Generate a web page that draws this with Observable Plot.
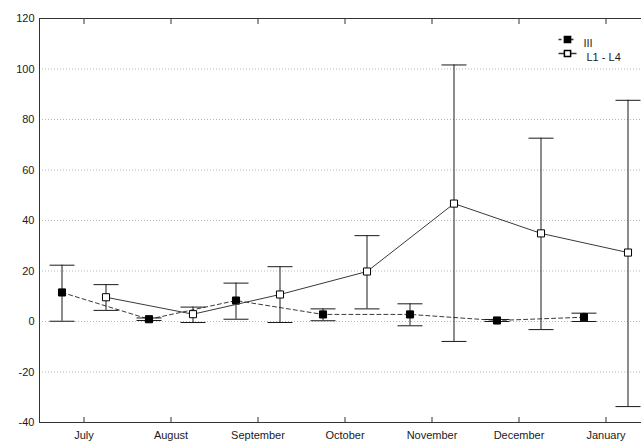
<!DOCTYPE html>
<html>
<head>
<meta charset="utf-8">
<script src="https://cdn.jsdelivr.net/npm/d3@7"></script>
<script src="https://cdn.jsdelivr.net/npm/@observablehq/plot@0.6"></script>
<style>
  html, body { margin: 0; padding: 0; background: #fff; }
  #chart svg { display: block; }
</style>
</head>
<body>
<div id="chart"></div>
<script>
const months = ["July", "August", "September", "October", "November", "December", "January"];
const yTicks = [-40, -20, 0, 20, 40, 60, 80, 100, 120];
const gridTicks = [-20, 0, 20, 40, 60, 80, 100];

const seriesNames = ["III", "L1 - L4"];
const iiiMean = [11.5, 0.9, 8.3, 2.8, 2.8, 0.4, 1.7];
const iiiLow  = [0.1, 0.4, 0.9, 0.3, -1.7, 0.0, 0.0];
const iiiHigh = [22.3, 1.4, 15.2, 5.0, 7.0, 0.8, 3.3];
const lMean = [9.6, 2.9, 10.7, 19.8, 46.7, 34.9, 27.3];
const lLow  = [4.4, -0.4, -0.4, 5.0, -7.9, -3.2, -33.7];
const lHigh = [14.6, 5.7, 21.7, 34.0, 101.6, 72.6, 87.6];

const iii = months.map((m, i) => ({month: m, mean: iiiMean[i], low: iiiLow[i], high: iiiHigh[i]}));
const l14 = months.map((m, i) => ({month: m, mean: lMean[i], low: lLow[i], high: lHigh[i]}));

const hline = (w) => ({draw(ctx) { ctx.moveTo(-w / 2, 0); ctx.lineTo(w / 2, 0); }});
const ink = "#1a1a1a";
const OFF = 22;

function seriesMarks(data, dx, filled, dashed) {
  return [
    Plot.line(data, {x: "month", y: "mean", dx, stroke: "#3a3a3a", strokeWidth: 1, strokeDasharray: dashed ? "4,3" : null}),
    Plot.ruleX(data, {x: "month", y1: "low", y2: "high", dx, stroke: ink, strokeWidth: 1}),
    Plot.dot(data, {x: "month", y: "high", dx, symbol: hline(25), stroke: ink, strokeWidth: 1}),
    Plot.dot(data, {x: "month", y: "low", dx, symbol: hline(25), stroke: ink, strokeWidth: 1}),
    Plot.dot(data, {x: "month", y: "mean", dx, symbol: "square", r: 4, fill: filled ? "#000" : "#fff", stroke: "#000", strokeWidth: 1})
  ];
}

const legend = [
  Plot.dot([seriesNames[0]], {frameAnchor: "top-right", dx: -82, dy: 21, symbol: hline(18), stroke: "#333", strokeDasharray: "3,3"}),
  Plot.dot([seriesNames[0]], {frameAnchor: "top-right", dx: -82, dy: 21, symbol: "square", r: 3.5, fill: "#000", stroke: "#000"}),
  Plot.text([seriesNames[0]], {frameAnchor: "top-right", dx: -66, dy: 21, text: d => d, textAnchor: "start", fill: ink}),
  Plot.dot([seriesNames[1]], {frameAnchor: "top-right", dx: -82, dy: 35, symbol: hline(18), stroke: "#333"}),
  Plot.dot([seriesNames[1]], {frameAnchor: "top-right", dx: -82, dy: 35, symbol: "square", r: 3.5, fill: "#fff", stroke: "#000"}),
  Plot.text([seriesNames[1]], {frameAnchor: "top-right", dx: -63, dy: 35, text: d => d, textAnchor: "start", fill: ink})
];

const chart = Plot.plot({
  width: 641,
  height: 441,
  marginLeft: 39,
  marginRight: -8,
  marginTop: 18,
  marginBottom: 19,
  style: {fontFamily: "'Liberation Sans', Arial, sans-serif", fontSize: "11px", color: ink, background: "#fff"},
  x: {type: "band", domain: months, padding: 0, label: null},
  y: {domain: [-40, 120], label: null},
  marks: [
    Plot.ruleY(gridTicks, {stroke: "#b8b8b8", strokeDasharray: "1,2", strokeWidth: 1}),
    Plot.frame({stroke: "#333", strokeWidth: 1}),
    Plot.axisY({ticks: yTicks, tickSize: 0, tickPadding: 5, tickFormat: d => String(d), label: null, fill: ink}),
    Plot.axisX({anchor: "bottom", tickSize: 0, tickPadding: 9, label: null, fill: ink}),
    Plot.axisX({anchor: "bottom", tickSize: -5, text: null, label: null, stroke: "#333"}),
    Plot.axisX({anchor: "top", tickSize: -5, text: null, label: null, stroke: "#333"}),
    ...seriesMarks(iii, -OFF, true, true),
    ...seriesMarks(l14, OFF, false, false),
    ...legend
  ]
});
document.getElementById("chart").appendChild(chart);
</script>
</body>
</html>
